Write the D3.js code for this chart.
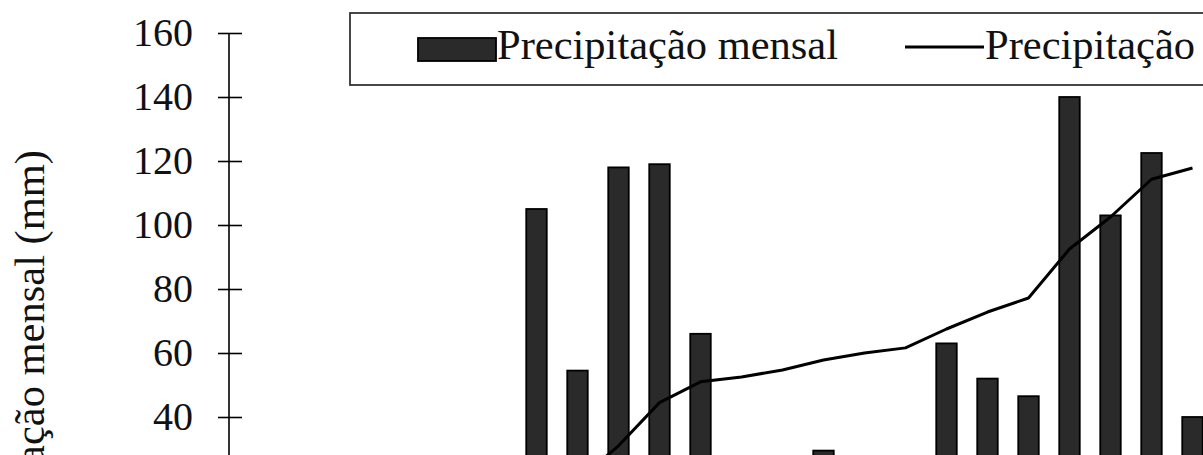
<!DOCTYPE html>
<html>
<head>
<meta charset="utf-8">
<script src="https://cdn.jsdelivr.net/npm/d3@7"></script>
<style>
  html,body{margin:0;padding:0;background:#fff;overflow:hidden;}
  svg{display:block;font-family:"Liberation Serif","Times New Roman",serif;}
</style>
</head>
<body>
<svg id="chart" width="1203" height="455"></svg>
<script>
// ===== DATA =====
const months = ["jan","fev","mar","abr","mai","jun","jul","ago","set","out","nov","dez",
                "jan ","fev ","mar ","abr ","mai ","jun ","jul ","ago ","set ","out ","nov ","dez "];
// monthly rainfall (bars) - first months sit below the visible window
const monthly = [14,8,22,3,0,10,25,105,54.5,118,119,66,12,6,29.5,18,20,63,52,46.5,140,103,122.5,40];
// second series (line)
const lineVals = [11,12,14,14,15,17,18,19,20,31,44.5,51,52.5,54.7,57.8,60,61.6,67.5,72.8,77.2,92.5,102.5,114.3,117.8];
const yTicks = [0,20,40,60,80,100,120,140,160];
const legendLabels = ["Precipitação mensal","Precipitação média"];

// ===== LAYOUT =====
const svg = d3.select("#chart");
const axisX = 229, step = 41;
const x = d3.scaleBand().domain(months).range([axisX, axisX + months.length*step])
  .paddingInner(0.5).paddingOuter(0.25);
const y = d3.scaleLinear().domain([0,160]).range([545,33]);

// ===== Y AXIS =====
const yAxis = svg.append("g").attr("transform",`translate(${axisX},0)`)
  .call(d3.axisLeft(y).tickValues(yTicks).tickSizeInner(11).tickSizeOuter(0).tickPadding(25));
yAxis.select(".domain").attr("stroke","#000").attr("stroke-width",1.6)
  .attr("d",`M0,${y(160)}V${y(0)}`);
yAxis.selectAll(".tick line").attr("x1",-11).attr("x2",13).attr("stroke","#000").attr("stroke-width",1.6);
yAxis.selectAll(".tick text").attr("font-size",40).attr("fill","#111")
  .attr("font-family",'"Liberation Serif","Times New Roman",serif');

// x axis baseline (below the visible area)
svg.append("g").attr("transform",`translate(0,${y(0)})`)
  .call(d3.axisBottom(x).tickSize(0).tickFormat(""))
  .select(".domain").attr("stroke","#000");

// y title
svg.append("text")
  .attr("transform","translate(44,150) rotate(-90)")
  .attr("text-anchor","end").attr("font-size",42.5).attr("fill","#111")
  .text("Precipitação mensal (mm)");

// ===== BARS =====
svg.append("g").selectAll("rect").data(monthly).join("rect")
  .attr("x",(d,i)=>x(months[i]))
  .attr("y",d=>y(d))
  .attr("width",x.bandwidth())
  .attr("height",d=>y(0)-y(d))
  .attr("fill","#2a2a2a").attr("stroke","#000").attr("stroke-width",1.8);

// ===== LINE =====
const line = d3.line().x((d,i)=>x(months[i])+x.bandwidth()/2).y(d=>y(d));
svg.append("path").datum(lineVals)
  .attr("d",line).attr("fill","none").attr("stroke","#000").attr("stroke-width",3)
  .attr("stroke-linejoin","round");

// ===== LEGEND =====
const lg = svg.append("g");
lg.append("rect").attr("x",350).attr("y",13).attr("width",900).attr("height",72)
  .attr("fill","#fff").attr("stroke","#333").attr("stroke-width",1.8);
lg.append("rect").attr("x",418).attr("y",38).attr("width",78).attr("height",23)
  .attr("fill","#2a2a2a").attr("stroke","#000").attr("stroke-width",1.8);
lg.append("text").attr("x",497).attr("y",59).attr("font-size",42.5).attr("fill","#111")
  .text(legendLabels[0]);
lg.append("line").attr("x1",905).attr("x2",984).attr("y1",47).attr("y2",47)
  .attr("stroke","#000").attr("stroke-width",3);
lg.append("text").attr("x",985).attr("y",59).attr("font-size",42.5).attr("fill","#111")
  .text(legendLabels[1]);
</script>
</body>
</html>
